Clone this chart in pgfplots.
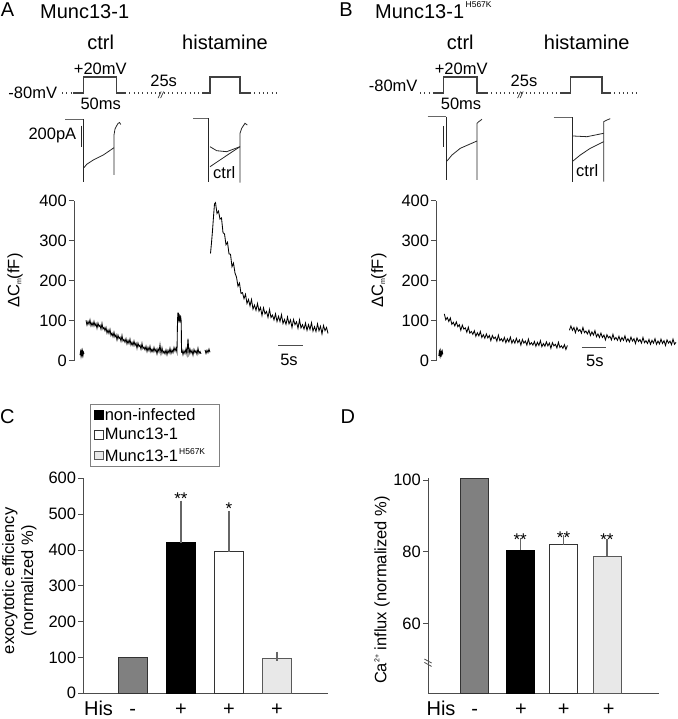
\documentclass[border=0pt]{standalone}
\usepackage{fontspec}
\setmainfont{Liberation Sans}
\usepackage{pgfplots}
\pgfplotsset{compat=1.18}

\newcommand\fbig{\fontsize{20}{24}\selectfont}
\newcommand\fmed{\fontsize{16.5}{19}\selectfont}
\newcommand\fstar{\fontsize{17}{19}\selectfont}
\newcommand\supA[1]{\kern1.5pt\raisebox{11pt}{\fontsize{8.5}{9}\selectfont #1}}
\newcommand\supL[1]{\kern1pt\raisebox{7pt}{\fontsize{8.5}{9}\selectfont #1}}

\pgfplotsset{
  trace/.style={black, line width=0.85pt},
  proto/.style={black!75, line width=1.1pt},
  dots/.style={black!75, line width=1.1pt, dash pattern=on 0.9pt off 3.4pt},
  cur/.style={black!85, line width=0.8pt},
  tracepanel/.style={
    scale only axis, anchor=south west, height=160pt,
    ymin=0, ymax=400, xmin=0,
    axis x line=none, axis y line*=left,
    ytick={0,100,...,400},
    tick align=outside, major tick length=5pt,
    y axis line style={black!70, line width=0.9pt},
    ytick style={black!70, line width=0.9pt},
    tick label style={font=\fmed},
    yticklabel style={inner sep=2pt},
    /pgf/number format/assume math mode=true,
    clip=false,
  },
  barpanel/.style={
    scale only axis, anchor=south west, height=215pt,
    axis x line*=bottom, axis y line*=left,
    axis line style={black!70, line width=0.9pt},
    ytick align=outside, major tick length=5pt,
    ytick style={black!70, line width=0.9pt},
    xtick style={draw=none},
    tick label style={font=\fmed},
    yticklabel style={inner sep=2pt},
    xticklabel style={font=\fbig, anchor=base, inner sep=0pt, yshift=-17pt},
    /pgf/number format/assume math mode=true,
    ybar, bar shift=0pt,
    clip mode=individual,
    error bars/y dir=plus, error bars/y explicit,
    error bars/error bar style={black!60, line width=1.3pt},
    error bars/error mark options={black!60, line width=1.3pt, mark size=4.5pt},
  },
}

\begin{document}
\begin{tikzpicture}
\useasboundingbox (0pt,0pt) rectangle (677pt,719pt);

% ---- pixel frame for protocol sketches and panel letters
\begin{axis}[at={(0pt,0pt)}, anchor=south west, scale only axis,
  width=677pt, height=719pt, xmin=0, xmax=677, ymin=0, ymax=719,
  y dir=reverse, hide axis, clip=false]
% panel A protocol
\addplot[dots] coordinates {(62,93)(73,93)};
\addplot[proto] coordinates {(73,93)(83.3,93)(83.3,77)(116.7,77)(116.7,93)(125,93)};
\addplot[dots] coordinates {(125,93)(202,93)};
\addplot[proto] coordinates {(202,93)(210,93)(210,77)(240,77)(240,93)(250,93)};
\addplot[dots] coordinates {(250,93)(278,93)};
% panel A currents
\addplot[cur, black!60] coordinates {(65,119)(83.3,119)};
\addplot[cur] coordinates {(83.3,119)(83.3,181.7)};
\addplot[cur] coordinates {(84,167.7)(86.7,164.3)(93.3,160)(103.3,155)(114,147.7)};
\addplot[cur] coordinates {(114,175)(114,135)(115,129)(116.5,126)(118,123.5)(119.5,122.5)(120.8,124.5)};
\addplot[cur, line width=1pt] coordinates {(81,125.7)(81,147.3)};
\addplot[cur, black!60] coordinates {(193.3,118.3)(208.3,118.3)};
\addplot[cur] coordinates {(208.3,118.3)(208.3,181.7)};
\addplot[cur] coordinates {(210,146.7)(216.7,150.7)(226.7,151.7)(240,146.7)};
\addplot[cur] coordinates {(210,166.7)(220,160)(230,153.3)(240,146.7)};
\addplot[cur] coordinates {(240,182.7)(240,133.3)(241.7,128.3)(245,123.3)(247.3,125)};
% panel B protocol
\addplot[dots] coordinates {(420,93)(434,93)};
\addplot[proto] coordinates {(434,93)(443.7,93)(443.7,77)(477,77)(477,93)(487,93)};
\addplot[dots] coordinates {(487,93)(561,93)};
\addplot[proto] coordinates {(561,93)(570.3,93)(570.3,77)(602,77)(602,93)(610,93)};
\addplot[dots] coordinates {(610,93)(637,93)};
% panel B currents
\addplot[cur, black!60] coordinates {(427.7,116.7)(446.3,116.7)};
\addplot[cur] coordinates {(446.3,116.7)(446.3,180)};
\addplot[cur] coordinates {(447,161)(452,155)(460.3,148.3)(477,141)};
\addplot[cur] coordinates {(477,180)(477,123.3)(478.7,121.7)(482,119.3)};
\addplot[cur, line width=1pt] coordinates {(443,126)(443,146.7)};
\addplot[cur, black!60] coordinates {(553.7,117.3)(572,117.3)};
\addplot[cur] coordinates {(572,117.3)(572,181.7)};
\addplot[cur] coordinates {(573,136)(587,136.7)(603.7,133.3)};
\addplot[cur] coordinates {(573,161)(580.3,155)(590.3,148.3)(603.7,141.7)};
\addplot[cur] coordinates {(603.7,181.7)(603.7,121.7)(607,120)(610.3,118.7)};
% texts
\node[font=\fbig, anchor=base] at (axis cs:7.5,16.7) {A};
\node[font=\fbig, anchor=base west, inner sep=0pt] at (axis cs:40,18.3) {Munc13-1};
\node[font=\fbig, anchor=base] at (axis cs:346,16.7) {B};
\node[font=\fbig, anchor=base west, inner sep=0pt] at (axis cs:375,18.3) {Munc13-1\supA{H567K}};
\node[font=\fbig, anchor=base] at (axis cs:100.7,50) {ctrl};
\node[font=\fbig, anchor=base] at (axis cs:225,50) {histamine};
\node[font=\fbig, anchor=base] at (axis cs:460.3,50) {ctrl};
\node[font=\fbig, anchor=base] at (axis cs:586.7,50) {histamine};
\node[font=\fmed, anchor=base] at (axis cs:100.3,75) {+20mV};
\node[font=\fmed, anchor=base] at (axis cs:461.2,75) {+20mV};
\node[font=\fmed, anchor=base west, inner sep=0pt] at (axis cs:8.3,98.3) {-80mV};
\node[font=\fmed, anchor=base west, inner sep=0pt] at (axis cs:368.7,91.7) {-80mV};
\node[font=\fmed, anchor=base] at (axis cs:100.7,110) {50ms};
\node[font=\fmed, anchor=base] at (axis cs:461,110) {50ms};
\node[font=\fmed, anchor=base] at (axis cs:163.7,86.7) {25s};
\node[font=\fmed, anchor=base] at (axis cs:524,86.7) {25s};
\node[font=\fontsize{9}{9}\selectfont\itshape] at (axis cs:160.8,95.7) {//};
\node[font=\fontsize{9}{9}\selectfont\itshape] at (axis cs:520.3,95.7) {//};
\node[font=\fmed, anchor=base west, inner sep=0pt] at (axis cs:28.3,140) {200pA};
\node[font=\fmed, anchor=base] at (axis cs:224.2,178.3) {ctrl};
\node[font=\fmed, anchor=base] at (axis cs:587.2,176.7) {ctrl};
\node[font=\fbig, anchor=base west, inner sep=0pt] at (axis cs:0,423) {C};
\node[font=\fbig, anchor=base west, inner sep=0pt] at (axis cs:340.3,423) {D};
\end{axis}

% ---- panel A capacitance trace
\begin{axis}[tracepanel, at={(74pt,358.3pt)}, width=256pt, xmax=51.2,
  ylabel={ΔC\raisebox{-2pt}{\fontsize{7}{7}\selectfont m}(fF)},
  every axis y label/.style={at={(axis description cs:-0.2305,0.5)}, rotate=90, anchor=center, font=\fmed}]
\addplot[trace] coordinates {(1.2,14)(1.3,22)(1.4,12)(1.5,23)(1.6,15)(1.7,24)(1.8,13)(1.9,21)(2.0,17)};
\addplot[trace] coordinates {
(2.4,101)(2.6,89)(2.8,98)(3.0,91)(3.2,102)(3.4,87)(3.6,95)(3.8,87)(4.0,98)(4.2,87)
(4.4,93)(4.6,81)(4.8,94)(5.0,85)(5.2,89)(5.4,79)(5.6,93)(5.8,79)(6.0,83)(6.2,75)
(6.4,83)(6.6,69)(6.8,77)(7.0,68)(7.2,78)(7.4,63)(7.6,69)(7.8,60)(8.0,71)(8.2,59)
(8.4,65)(8.6,52)(8.8,64)(9.0,55)(9.2,59)(9.4,49)(9.6,63)(9.8,49)(10.0,53)(10.2,46)
(10.4,55)(10.6,42)(10.8,51)(11.0,43)(11.2,54)(11.4,39)(11.6,46)(11.8,38)(12.0,49)(12.2,38)
(12.4,44)(12.6,31)(12.8,44)(13.0,35)(13.2,39)(13.4,29)(13.6,43)(13.8,30)(14.0,34)(14.2,27)
(14.4,36)(14.6,23)(14.8,33)(15.0,25)(15.2,36)(15.4,22)(15.6,29)(15.8,22)(16.0,33)(16.2,23)
(16.4,29)(16.6,17)(16.8,30)(17.0,22)(17.2,40)(17.4,18)(17.6,32)(17.8,19)(18.0,24)(18.2,17)
(18.4,27)(18.6,15)(18.8,26)(19.0,19)(19.2,31)(19.4,18)(19.6,27)(19.8,20)(20.0,33)(20.2,24)
(20.4,32)(20.6,21)
(20.70,100)(20.78,120)(20.86,104)(20.95,112)(21.05,102)(21.15,110)(21.25,101)(21.35,108)(21.45,99)(21.50,20)
(21.6,27)(21.8,15)(22.0,25)(22.2,18)(22.4,30)(22.6,16)(22.8,55)(23.0,17)(23.2,29)(23.4,19)
(23.6,26)(23.8,14)(24.0,28)(24.2,20)(24.4,25)(24.6,16)(24.8,31)(25.0,18)(25.2,23)(25.4,17)};
\addplot[trace] coordinates {(26.2,27)(26.4,18)(26.6,26)(26.8,20)(27.0,29)(27.2,21)};
\addplot[trace] coordinates {
(27.3,268)(27.5,295)(27.7,325)(27.9,360)(28.1,392)(28.3,395)(28.6,368)(28.9,374)(29.2,354)(29.5,357)
(29.8,320)(30.1,317)(30.4,290)(30.7,296)(31.0,267)(31.3,266)(31.6,235)(31.9,244)(32.2,219)(32.5,209)
(32.8,186)(33.1,194)(33.4,168)(33.7,170)(34.0,155)(34.3,166)(34.6,143)(34.9,153)(35.2,137)(35.5,153)
(35.8,129)(36.1,139)(36.4,126)(36.7,143)(37.0,124)(37.3,133)(37.6,113)(37.9,132)(38.2,117)(38.5,123)
(38.8,108)(39.1,128)(39.4,108)(39.7,114)(40.0,102)(40.3,117)(40.6,98)(40.9,111)(41.2,98)(41.5,115)
(41.8,93)(42.1,103)(42.4,91)(42.7,109)(43.0,92)(43.3,102)(43.6,83)(43.9,103)(44.2,90)(44.5,97)
(44.8,81)(45.1,102)(45.4,82)(45.7,90)(46.0,79)(46.3,94)(46.6,76)(46.9,90)(47.2,78)(47.5,95)
(47.8,74)(48.1,85)(48.4,73)(48.7,92)(49.0,75)(49.3,86)(49.6,67)(49.9,88)(50.2,75)(50.5,83)(50.8,68)};
\addplot[black!70, line width=1pt] coordinates {(40.8,37.5)(45.8,37.5)};
\node[font=\fmed, anchor=base] at (axis cs:43,-12.5) {5s};
\end{axis}

% ---- panel B capacitance trace
\begin{axis}[tracepanel, at={(436.3pt,358.3pt)}, width=240.7pt, xmax=48.1,
  ylabel={ΔC\raisebox{-2pt}{\fontsize{7}{7}\selectfont m}(fF)},
  every axis y label/.style={at={(axis description cs:-0.239,0.5)}, rotate=90, anchor=center, font=\fmed}]
\addplot[trace] coordinates {(0.5,12)(0.6,22)(0.7,14)(0.8,24)(0.9,13)(1.0,21)(1.1,15)(1.2,23)(1.3,16)};
\addplot[trace] coordinates {
(1.6,117)(1.9,102)(2.2,108)(2.5,98)(2.8,107)(3.1,91)(3.4,96)(3.7,87)(4.0,97)(4.3,85)
(4.6,90)(4.9,76)(5.2,89)(5.5,79)(5.8,82)(6.1,71)(6.4,84)(6.7,69)(7.0,73)(7.3,66)
(7.6,75)(7.9,61)(8.2,70)(8.5,62)(8.8,73)(9.1,58)(9.4,65)(9.7,56)(10.0,67)(10.3,57)
(10.6,63)(10.9,50)(11.2,63)(11.5,55)(11.8,59)(12.1,49)(12.4,64)(12.7,50)(13.0,55)(13.3,48)
(13.6,58)(13.9,45)(14.2,55)(14.5,47)(14.8,59)(15.1,44)(15.4,52)(15.7,44)(16.0,56)(16.3,45)
(16.6,52)(16.9,39)(17.2,53)(17.5,44)(17.8,49)(18.1,39)(18.4,54)(18.7,40)(19.0,45)(19.3,39)
(19.6,48)(19.9,36)(20.2,46)(20.5,38)(20.8,50)(21.1,35)(21.4,43)(21.7,36)(22.0,47)(22.3,37)
(22.6,44)(22.9,31)(23.2,45)(23.5,37)(23.8,41)(24.1,32)(24.4,46)(24.7,33)(25.0,37)(25.3,31)
(25.6,40)(25.9,28)(26.2,38)};
\addplot[trace] coordinates {
(26.6,76)(26.9,87)(27.2,76)(27.5,83)(27.8,70)(28.1,83)(28.4,74)(28.7,78)(29.0,69)(29.3,83)
(29.6,70)(29.9,74)(30.2,67)(30.5,76)(30.8,63)(31.1,72)(31.4,64)(31.7,75)(32.0,60)(32.3,67)
(32.6,58)(32.9,69)(33.2,58)(33.5,64)(33.8,52)(34.1,65)(34.4,57)(34.7,61)(35.0,52)(35.3,66)
(35.6,53)(35.9,58)(36.2,51)(36.5,61)(36.8,49)(37.1,58)(37.4,51)(37.7,62)(38.0,48)(38.3,55)
(38.6,47)(38.9,59)(39.2,49)(39.5,55)(39.8,43)(40.1,57)(40.4,48)(40.7,53)(41.0,44)(41.3,58)
(41.6,45)(41.9,50)(42.2,43)(42.5,53)(42.8,41)(43.1,51)(43.4,44)(43.7,55)(44.0,41)(44.3,49)
(44.6,42)(44.9,54)(45.2,43)(45.5,50)(45.8,38)(46.1,52)(46.4,44)(46.7,49)(47.0,40)(47.3,54)
(47.6,41)(47.9,46)};
\addplot[black!70, line width=1pt] coordinates {(29.1,33.5)(34.0,33.5)};
\node[font=\fmed, anchor=base] at (axis cs:31.7,-15) {5s};
\end{axis}

% ---- panel C exocytotic efficiency
\begin{axis}[barpanel, at={(83.3pt,25.7pt)}, width=244.7pt,
  xmin=-0.03, xmax=5.06, ymin=0, ymax=600, ytick={0,100,...,600},
  bar width=0.603,
  xtick={0.287,1,2,3,4}, xticklabels={His,-,+,+,+},
  ylabel={exocytotic efficiency\\(normalized \%)},
  every axis y label/.style={at={(axis description cs:-0.2615,0.523)}, rotate=90, anchor=center, font=\fmed, align=center},
  legend style={at={(axis description cs:0.027,1.344)}, anchor=north west,
    draw=black!50, font=\fmed, inner xsep=4pt, inner ysep=2pt, row sep=3.9pt,
    nodes={inner sep=1.5pt}},
  legend cell align=left,
  legend image code/.code={\draw[#1, line width=0.7pt] (0pt,-4.25pt) rectangle (8.5pt,4.25pt);}]
\addplot[fill=black!50, draw=black!80, line width=0.8pt, forget plot, error bars/y dir=none] coordinates {(1,100)};
\addplot[fill=black, draw=black, line width=0.8pt] coordinates {(2,420) +- (0,105)};
\addplot[fill=white, draw=black!80, line width=0.8pt] coordinates {(3,395) +- (0,101)};
\addplot[fill=black!9, draw=black!65, line width=0.8pt] coordinates {(4,97) +- (0,7)};
\legend{non-infected, Munc13-1, Munc13-1\supL{H567K}\kern9pt}
\node[font=\fstar, anchor=base] at (axis cs:2,528) {**};
\node[font=\fstar, anchor=base] at (axis cs:3,499) {*};
\end{axis}

% ---- panel D calcium influx
\begin{axis}[barpanel, at={(428pt,25.7pt)}, width=230.7pt,
  xmin=-0.077, xmax=5.154, ymin=40.47, ymax=100.5, ytick={60,80,100},
  bar width=0.635,
  xtick={0.218,0.98,2.03,3,4.02}, xticklabels={His,-,+,+,+},
  ylabel={Ca\raisebox{7pt}{\fontsize{7}{7}\selectfont 2+} influx (normalized \%)},
  every axis y label/.style={at={(axis description cs:-0.1994,0.48)}, rotate=90, anchor=center, font=\fmed}]
\addplot[fill=black!50, draw=black!80, line width=0.8pt, error bars/y dir=none] coordinates {(0.977,100.5)};
\addplot[fill=black, draw=black, line width=0.8pt] coordinates {(2.014,80.5) +- (0,2.0)};
\addplot[fill=white, draw=black!80, line width=0.8pt] coordinates {(2.997,82.0) +- (0,1.4)};
\addplot[fill=black!9, draw=black!65, line width=0.8pt] coordinates {(3.98,78.8) +- (0,3.5)};
\node[font=\fstar, anchor=base] at (axis cs:2.014,81.8) {**};
\node[font=\fstar, anchor=base] at (axis cs:2.997,82.4) {**};
\node[font=\fstar, anchor=base] at (axis cs:3.98,81.8) {**};
\draw[black!70, line width=0.8pt] ([xshift=-3.6pt,yshift=1.2pt]rel axis cs:0,0.138) -- ++(7.2pt,-4pt);
\draw[black!70, line width=0.8pt] ([xshift=-3.6pt,yshift=4.6pt]rel axis cs:0,0.138) -- ++(7.2pt,-4pt);
\end{axis}
\end{tikzpicture}
\end{document}
